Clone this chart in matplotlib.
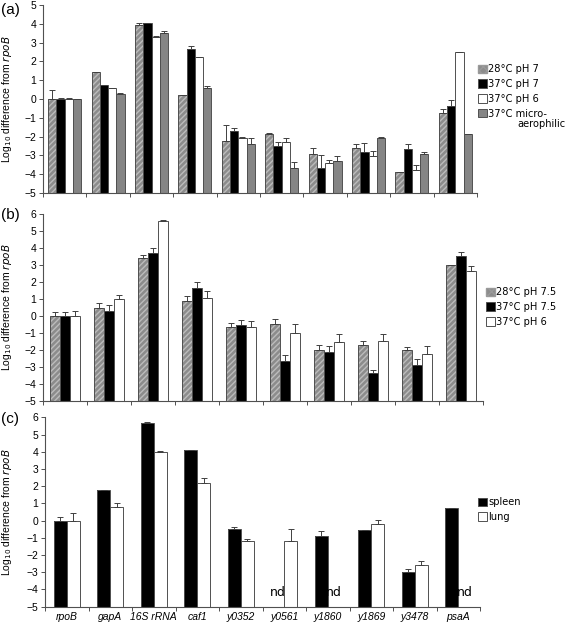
import numpy as np
import matplotlib
matplotlib.use('Agg')
import matplotlib.pyplot as plt
from matplotlib.patches import Patch

plt.rcParams['font.family'] = ['Liberation Sans', 'DejaVu Sans']
plt.rcParams['hatch.linewidth'] = 1.0

genes = ['rpoB', 'gapA', '16S rRNA', 'caf1', 'y0352', 'y0561', 'y1860', 'y1869', 'y3478', 'psaA']

# panel (a)
a_28_ph7 = [0, 1.43, 3.93, 0.20, -2.25, -1.86, -2.92, -2.58, -3.90, -0.77]
a_28_ph7_err = [0.46, 0.03, 0.09, 0.0, 0.89, 0.04, 0.32, 0.16, 0.03, 0.23]
a_37_ph7 = [0, 0.74, 4.02, 2.64, -1.70, -2.48, -3.65, -2.80, -2.66, -0.35]
a_37_ph7_err = [0.05, 0.03, 0.04, 0.18, 0.17, 0.20, 0.66, 0.48, 0.25, 0.32]
a_37_ph6 = [0, 0.58, 3.28, 2.23, -2.10, -2.28, -3.43, -3.01, -3.79, 2.48]
a_37_ph6_err = [0.03, 0.03, 0.05, 0.03, 0.09, 0.21, 0.21, 0.27, 0.28, 0.02]
a_micro = [0, 0.28, 3.49, 0.61, -2.39, -3.67, -3.28, -2.10, -2.92, -1.87]
a_micro_err = [0.02, 0.02, 0.14, 0.09, 0.29, 0.32, 0.23, 0.07, 0.09, 0.02]

# panel (b)
b_28_ph75 = [0, 0.50, 3.42, 0.91, -0.65, -0.48, -2.00, -1.71, -2.00, 3.00]
b_28_ph75_err = [0.25, 0.26, 0.15, 0.28, 0.23, 0.29, 0.29, 0.23, 0.17, 0.0]
b_37_ph75 = [0, 0.33, 3.73, 1.66, -0.49, -2.65, -2.13, -3.32, -2.85, 3.55]
b_37_ph75_err = [0.25, 0.31, 0.27, 0.34, 0.27, 0.35, 0.37, 0.17, 0.32, 0.20]
b_37_ph6 = [0, 0.99, 5.61, 1.09, -0.65, -1.00, -1.53, -1.48, -2.24, 2.67]
b_37_ph6_err = [0.28, 0.27, 0.02, 0.37, 0.36, 0.52, 0.47, 0.43, 0.51, 0.30]

# panel (c), None = not detected
c_spleen = [0, 1.78, 5.69, 4.10, -0.49, None, -0.90, -0.55, -2.97, 0.71]
c_spleen_err = [0.20, 0.02, 0.06, 0.0, 0.13, 0, 0.27, 0.01, 0.15, 0.01]
c_lung = [0, 0.77, 3.98, 2.20, -1.19, -1.17, None, -0.20, -2.59, None]
c_lung_err = [0.46, 0.23, 0.06, 0.27, 0.12, 0.66, 0, 0.23, 0.22, 0]

BASE = -5
EDGE = '#505050'
styles = {
    'hatch': dict(color='#8c8c8c', edgecolor='#bcbcbc', hatch='//////'),
    'black': dict(color='black'),
    'white': dict(color='white'),
    'grey': dict(color='#858585'),
}


def draw_series(ax, x, vals, errs, width, style):
    x = np.asarray(x, dtype=float)
    keep = [i for i, v in enumerate(vals) if v is not None]
    xs = x[keep]
    v = np.array([vals[i] for i in keep], dtype=float)
    e = np.array([errs[i] for i in keep], dtype=float)
    st = styles[style]
    if style == 'hatch':
        ax.bar(xs, v - BASE, bottom=BASE, width=width, color=st['color'],
               edgecolor=st['edgecolor'], hatch=st['hatch'], lw=0, zorder=2)
    else:
        ax.bar(xs, v - BASE, bottom=BASE, width=width, color=st['color'], lw=0, zorder=2)
    ax.bar(xs, v - BASE, bottom=BASE, width=width, facecolor='none',
           edgecolor=EDGE, lw=0.7, zorder=3)
    ax.errorbar(xs, v, yerr=[np.zeros_like(e), e], fmt='none', ecolor='#404040',
                elinewidth=0.7, capsize=2.3, capthick=0.7, zorder=4)


def style_axis(ax, ymax, left_px, width_px, show_labels=False):
    n = len(genes)
    ax.set_xlim(-0.5, n - 0.5)
    ax.set_ylim(BASE, ymax)
    ax.set_yticks(range(BASE, ymax + 1))
    ax.tick_params(axis='y', labelsize=7.5, length=3, width=0.7, color=EDGE, pad=2)
    ax.set_xticks(np.arange(n + 1) - 0.5, minor=True)
    ax.tick_params(axis='x', which='minor', length=3, width=0.7, color=EDGE, direction='out')
    ax.set_xticks(np.arange(n))
    ax.tick_params(axis='x', which='major', length=0, pad=4)
    if show_labels:
        ax.set_xticklabels(genes, fontsize=7.5, style='italic')
    else:
        ax.set_xticklabels([])
    for s in ['top', 'right']:
        ax.spines[s].set_visible(False)
    for s in ['left', 'bottom']:
        ax.spines[s].set_color(EDGE)
        ax.spines[s].set_linewidth(0.8)
    ax.set_ylabel(r'Log$_{10}$ difference from $\it{rpoB}$', fontsize=7.5)
    ax.yaxis.set_label_coords((14 - left_px) / width_px, 0.5)


W, H = 567, 626
fig = plt.figure(figsize=(W / 100, H / 100), dpi=100)

ax_a = fig.add_axes([43 / W, (H - 193) / H, 434 / W, 188 / H])
ax_b = fig.add_axes([43 / W, (H - 401.3) / H, 440 / W, 187.3 / H])
ax_c = fig.add_axes([45 / W, (H - 606.7) / H, 435 / W, 189.4 / H])

x = np.arange(len(genes))

# (a)
w = 0.19
for k, (vals, errs, st) in enumerate([(a_28_ph7, a_28_ph7_err, 'hatch'),
                                      (a_37_ph7, a_37_ph7_err, 'black'),
                                      (a_37_ph6, a_37_ph6_err, 'white'),
                                      (a_micro, a_micro_err, 'grey')]):
    draw_series(ax_a, x + (k - 1.5) * w, vals, errs, w, st)
style_axis(ax_a, 5, 43, 434)

# (b)
w = 0.225
for k, (vals, errs, st) in enumerate([(b_28_ph75, b_28_ph75_err, 'hatch'),
                                      (b_37_ph75, b_37_ph75_err, 'black'),
                                      (b_37_ph6, b_37_ph6_err, 'white')]):
    draw_series(ax_b, x + (k - 1) * w, vals, errs, w, st)
style_axis(ax_b, 6, 43, 440)

# (c)
w = 0.3
for k, (vals, errs, st) in enumerate([(c_spleen, c_spleen_err, 'black'),
                                      (c_lung, c_lung_err, 'white')]):
    draw_series(ax_c, x + (k - 0.5) * w, vals, errs, w, st)
    for i, v in enumerate(vals):
        if v is None:
            ax_c.text(x[i] + (k - 0.5) * w, -4.2, 'nd', ha='center', va='center',
                      fontsize=9, family='DejaVu Sans')
style_axis(ax_c, 6, 45, 435, show_labels=True)


def legend_handles(items):
    out = []
    for lab, st in items:
        s = styles[st]
        if st == 'hatch':
            out.append(Patch(facecolor=s['color'], edgecolor='#9a9a9a', hatch='xxxx', label=lab))
        else:
            out.append(Patch(facecolor=s['color'], edgecolor=EDGE, lw=0.7, label=lab))
    return out


LEG_SIZE = 7.1
leg_kw = dict(frameon=False, loc='upper left', handlelength=0.9, handleheight=0.9,
              handletextpad=0.15, borderpad=0, borderaxespad=0, labelspacing=0.5,
              prop={'family': 'DejaVu Sans', 'size': LEG_SIZE})

fig.legend(handles=legend_handles([('28°C pH 7', 'hatch'), ('37°C pH 7', 'black'),
                                   ('37°C pH 6', 'white'), ('37°C micro-', 'grey')]),
           bbox_to_anchor=(478 / W, 1 - 64 / H), **leg_kw)
fig.text(517 / W, 1 - 124 / H, 'aerophilic', family='DejaVu Sans', fontsize=LEG_SIZE,
         va='center', ha='left')
fig.legend(handles=legend_handles([('28°C pH 7.5', 'hatch'), ('37°C pH 7.5', 'black'),
                                   ('37°C pH 6', 'white')]),
           bbox_to_anchor=(486 / W, 1 - 287 / H), **leg_kw)
fig.legend(handles=legend_handles([('spleen', 'black'), ('lung', 'white')]),
           bbox_to_anchor=(478 / W, 1 - 497 / H), **leg_kw)

for lab, ytop in [('(a)', 3), ('(b)', 208), ('(c)', 412)]:
    fig.text(1 / W, 1 - ytop / H, lab, fontsize=11, va='top', ha='left')

fig.savefig('out.png', dpi=100)
